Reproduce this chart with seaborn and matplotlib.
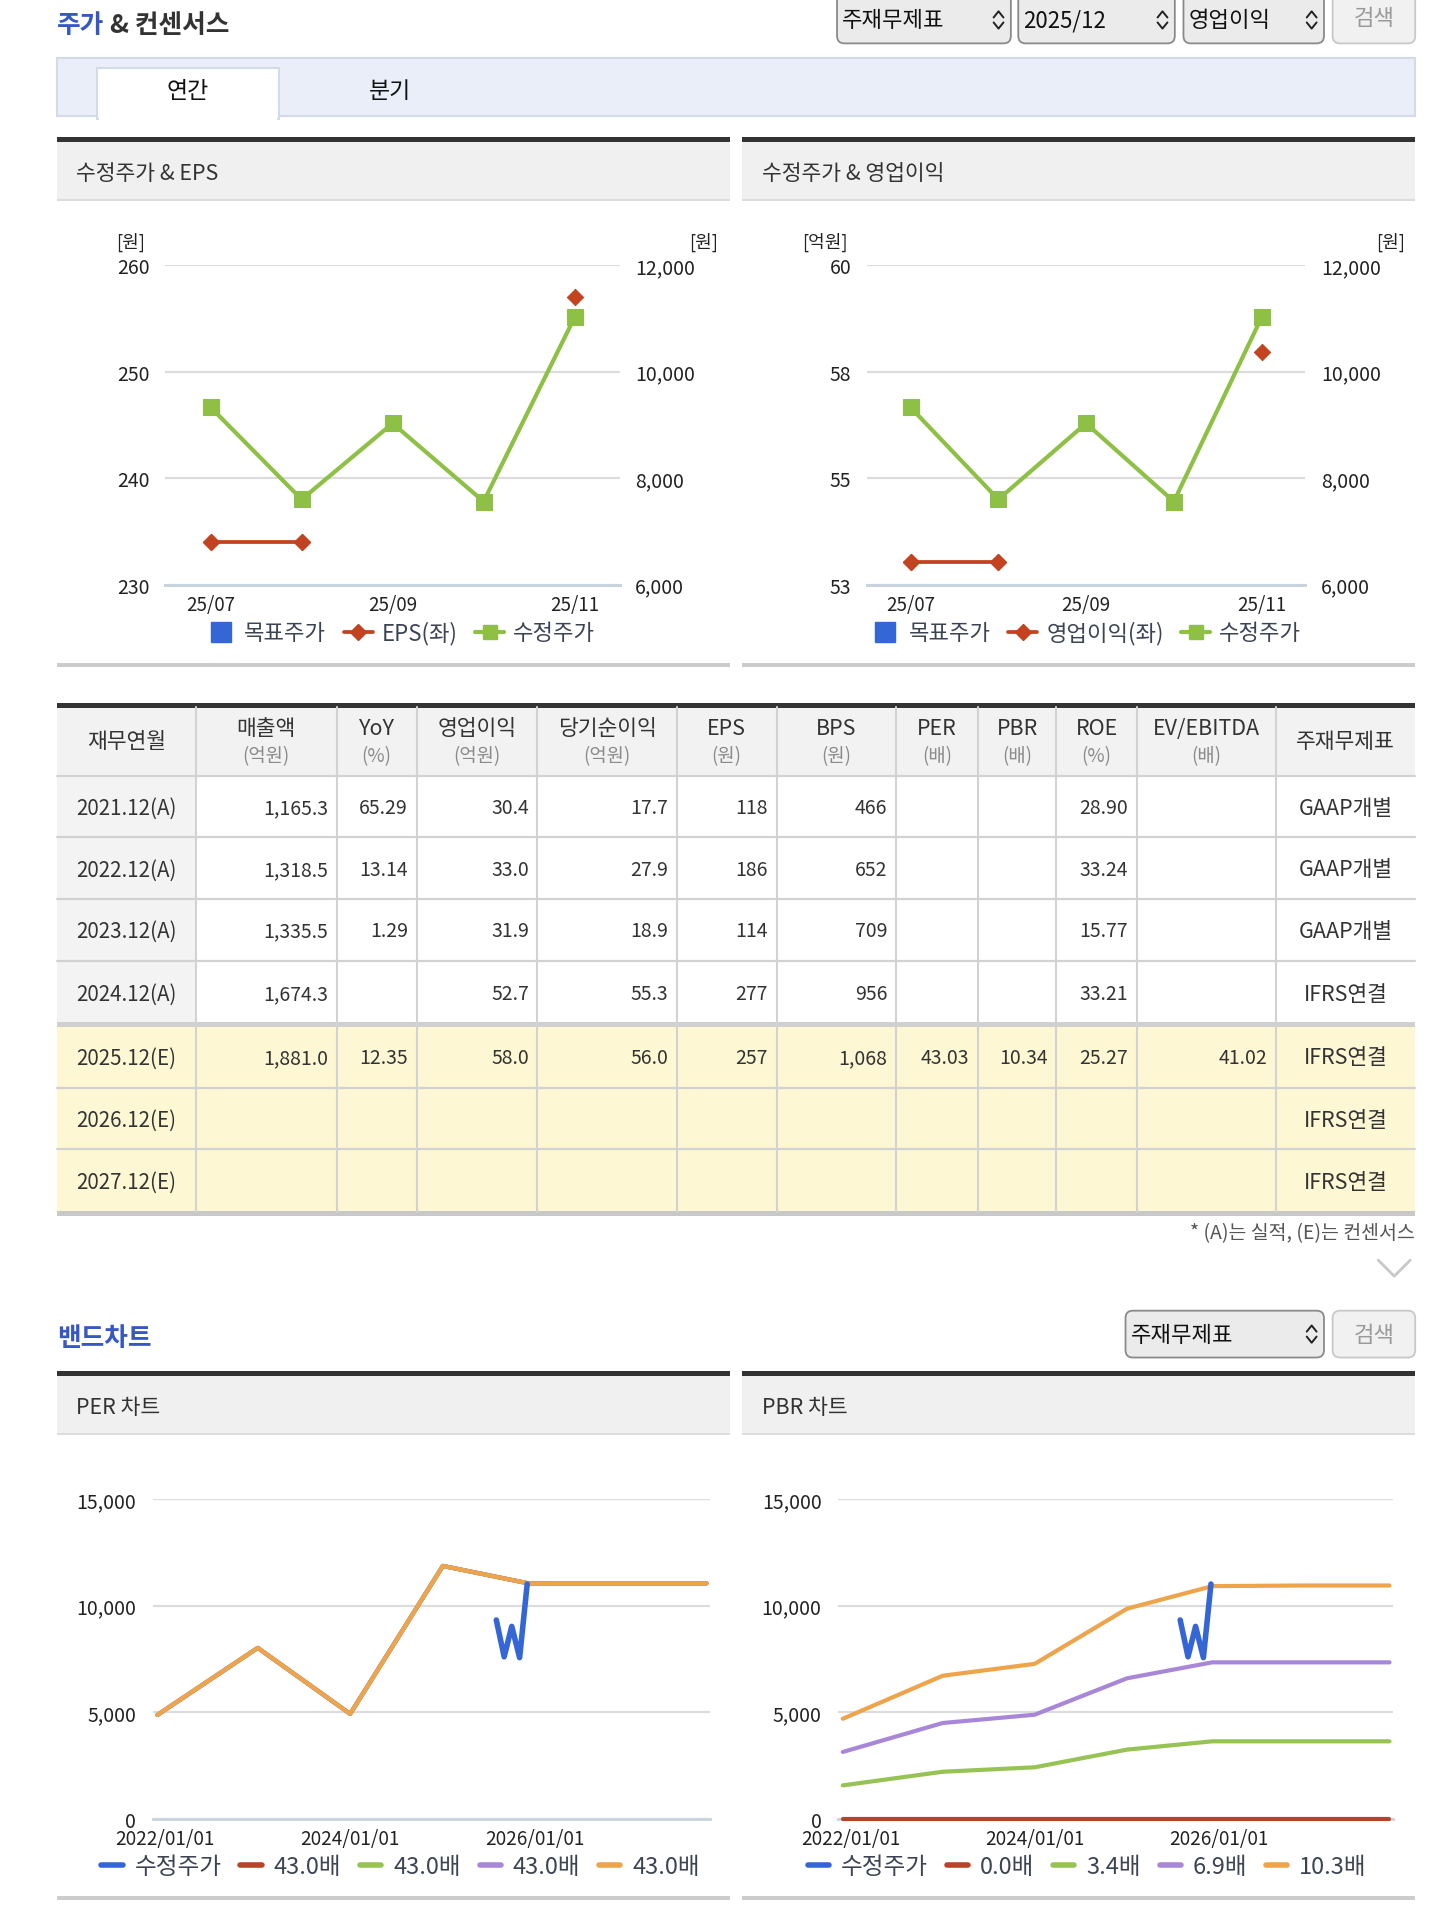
import numpy as np
import pandas as pd
import matplotlib
matplotlib.use("Agg")
import matplotlib.pyplot as plt
from matplotlib.patches import Rectangle, FancyBboxPatch
from matplotlib.lines import Line2D
from matplotlib.ticker import StrMethodFormatter
import seaborn as sns

# ---- data -------------------------------------------------------------
months = ["25/07", "25/08", "25/09", "25/10", "25/11"]
adj_price = [9330, 7600, 9030, 7560, 11020]          # 수정주가 (원)
eps_month = [234, 234, np.nan, np.nan, 257]           # EPS (원)
op_month = [53.5, 53.5, np.nan, np.nan, 58.1]         # 영업이익 (억원)

price_dates = ["2025-07-31", "2025-08-31", "2025-09-30", "2025-10-31", "2025-11-30"]

band_dates = ["2021-12-01", "2023-01-01", "2024-01-01", "2025-01-01",
              "2025-12-05", "2026-12-01", "2027-11-08"]
per_band_430 = [4870, 8020, 4920, 11870, 11050, 11050, 11050]
per_band_labels = ["43.0배", "43.0배", "43.0배", "43.0배"]
pbr_band_00 = [0, 0, 0, 0, 0, 0, 0]
pbr_band_34 = [1560, 2200, 2410, 3240, 3630, 3630, 3630]
pbr_band_69 = [3130, 4490, 4880, 6590, 7340, 7340, 7340]
pbr_band_103 = [4690, 6710, 7270, 9860, 10920, 10950, 10950]
pbr_band_labels = ["0.0배", "3.4배", "6.9배", "10.3배"]
band_ticks = ["2022-01-01", "2024-01-01", "2026-01-01"]
band_tick_labels = ["2022/01/01", "2024/01/01", "2026/01/01"]

col_names = ["재무연월", "매출액", "YoY", "영업이익", "당기순이익", "EPS", "BPS",
             "PER", "PBR", "ROE", "EV/EBITDA", "주재무제표"]
col_units = ["", "(억원)", "(%)", "(억원)", "(억원)", "(원)", "(원)",
             "(배)", "(배)", "(%)", "(배)", ""]
periods = ["2021.12(A)", "2022.12(A)", "2023.12(A)", "2024.12(A)",
           "2025.12(E)", "2026.12(E)", "2027.12(E)"]
sales = ["1,165.3", "1,318.5", "1,335.5", "1,674.3", "1,881.0", "", ""]
yoy = ["65.29", "13.14", "1.29", "", "12.35", "", ""]
op_income = ["30.4", "33.0", "31.9", "52.7", "58.0", "", ""]
net_income = ["17.7", "27.9", "18.9", "55.3", "56.0", "", ""]
eps = ["118", "186", "114", "277", "257", "", ""]
bps = ["466", "652", "709", "956", "1,068", "", ""]
per = ["", "", "", "", "43.03", "", ""]
pbr = ["", "", "", "", "10.34", "", ""]
roe = ["28.90", "33.24", "15.77", "33.21", "25.27", "", ""]
ev_ebitda = ["", "", "", "", "41.02", "", ""]
main_fs = ["GAAP개별", "GAAP개별", "GAAP개별", "IFRS연결", "IFRS연결", "IFRS연결", "IFRS연결"]

# ---- style ------------------------------------------------------------
sns.set_theme(style="white")
plt.rcParams["font.family"] = ["Noto Sans CJK KR", "DejaVu Sans"]

BLUE_T = "#3757c4"
GREEN = "#8dc044"
RED = "#c3421f"
BLUE = "#3566d6"
B_RED = "#b84428"
B_GREEN = "#97c355"
B_PURPLE = "#a887d8"
B_ORANGE = "#eda44b"
GRID = "#dcdcdc"
AXIS = "#c9d3df"
TXT = "#333333"
LEG = "#3c4454"

W, H = 1160, 1568   # page units (screenshot scaled)


def fx(x):
    return x / W


def fy(y):
    return 1 - y / H


fig = plt.figure(figsize=(14.30, 19.33), dpi=100)
page = fig.add_axes([0, 0, 1, 1])
page.set_xlim(0, W)
page.set_ylim(H, 0)
page.axis("off")


def rect(x0, y0, x1, y1, fc, ec="none", lw=0):
    page.add_patch(Rectangle((x0, y0), x1 - x0, y1 - y0, facecolor=fc, edgecolor=ec, lw=lw))


def dropdown(x0, y0, x1, y1, label):
    page.add_patch(FancyBboxPatch((x0, y0), x1 - x0, y1 - y0,
                                  boxstyle="round,pad=0,rounding_size=6",
                                  fc="#ebebeb", ec="#8a8a8a", lw=1.3))
    ym = (y0 + y1) / 2 if y0 > 0 else 17
    page.text(x0 + 4, ym, label, fontsize=16, color="#111", va="center")
    page.plot([x1 - 14, x1 - 10, x1 - 6], [ym - 2, ym - 7, ym - 2], color="#222", lw=1.4)
    page.plot([x1 - 14, x1 - 10, x1 - 6], [ym + 2, ym + 7, ym + 2], color="#222", lw=1.4)


def button(x0, y0, x1, y1):
    page.add_patch(FancyBboxPatch((x0, y0), x1 - x0, y1 - y0,
                                  boxstyle="round,pad=0,rounding_size=6",
                                  fc="#f1f1f1", ec="#c8c8c8", lw=1.3))
    ym = (y0 + y1) / 2 if y0 > 0 else 15
    page.text((x0 + x1) / 2, ym, "검색", fontsize=16, color="#9a9a9a", ha="center", va="center")


def panel(x0, x1, y_top, y_bot, title):
    rect(x0, y_top, x1, y_top + 4, "#333333")
    rect(x0, y_top + 4, x1, y_top + 51, "#f0f0f0")
    rect(x0, y_top + 50, x1, y_top + 52, "#dcdcdc")
    page.text(x0 + 16, y_top + 29, title, fontsize=15.5, color=TXT, va="center")
    rect(x0, y_bot, x1, y_bot + 3, "#cccccc")


# ---- page header ------------------------------------------------------
page.text(46, 21, "주가", fontsize=18.5, fontweight="bold", color=BLUE_T, va="center")
page.text(89, 21, "& 컨센서스", fontsize=18.5, fontweight="bold", color="#333", va="center")
dropdown(679, -6, 820, 36, "주재무제표")
dropdown(826, -6, 953, 36, "2025/12")
dropdown(960, -6, 1074, 36, "영업이익")
button(1081, -6, 1148, 36)

rect(46, 48, 1148, 95, "#e9eef9", ec="#d3dae8", lw=1.5)
rect(79, 56, 226, 97, "white", ec="#d3dae8", lw=1.5)
rect(80, 93, 225, 99, "white")
page.text(152, 74, "연간", fontsize=16.5, color="#111", ha="center", va="center")
page.text(316, 74, "분기", fontsize=16.5, color="#111", ha="center", va="center")

panel(46, 592, 112, 539, "수정주가 & EPS")
panel(602, 1148, 112, 539, "수정주가 & 영업이익")


# ---- top charts -------------------------------------------------------
def top_chart(x0, x1, left_vals, left_lim, left_ticks, left_ticklabels,
              unit_l, unit_l_x, unit_r_x, legend_label, legend_cx):
    ax = fig.add_axes([fx(x0), fy(475), (x1 - x0) / W, (475 - 216) / H])
    ax.set_facecolor("none")
    ax2 = ax.twinx()
    xi = np.arange(len(months))

    df = pd.DataFrame({"x": xi, "left": left_vals, "price": adj_price})
    sns.lineplot(data=df.iloc[:2], x="x", y="left", ax=ax, color=RED, lw=2.7,
                 marker="D", markersize=8, mec=RED)
    sns.scatterplot(data=df.dropna(), x="x", y="left", ax=ax, color=RED,
                    marker="D", s=70, edgecolor=RED)
    sns.lineplot(data=df, x="x", y="price", ax=ax2, color=GREEN, lw=3,
                 marker="s", markersize=11, mec=GREEN)

    ax.set_ylim(*left_lim)
    ax.set_yticks(left_ticks)
    ax.set_yticklabels(left_ticklabels)
    ax.yaxis.grid(True, color=GRID, lw=1.6)
    ax.set_axisbelow(True)
    ax2.set_ylim(6000, 12000)
    ax2.set_yticks([6000, 8000, 10000, 12000])
    ax2.yaxis.set_major_formatter(StrMethodFormatter("{x:,.0f}"))
    ax2.grid(False)

    ax.set_xlim(-0.5, len(months) - 0.5)
    ax.set_xticks(xi[::2])
    ax.set_xticklabels(months[::2])
    ax.set_xticks([-0.5, 0.5, 2.5, 4.5], minor=True)
    ax.tick_params(axis="x", which="major", length=0, pad=7, labelsize=13.5, colors="#222")
    ax.tick_params(axis="x", which="minor", length=7, width=1.5, color=AXIS, direction="out")
    ax.tick_params(axis="y", length=0, pad=11, labelsize=14, colors="#222")
    ax2.tick_params(axis="y", length=0, pad=11, labelsize=14, colors="#222")
    for a in (ax, ax2):
        a.set_xlabel("")
        a.set_ylabel("")
        for s in ("top", "left", "right"):
            a.spines[s].set_visible(False)
        a.spines["bottom"].set_color(AXIS)
        a.spines["bottom"].set_linewidth(2)

    page.text(unit_l_x, 197, unit_l, fontsize=13, color="#222", ha="center", va="center")
    page.text(unit_r_x, 197, "[원]", fontsize=13, color="#222", ha="center", va="center")

    handles = [Line2D([], [], ls="none", marker="s", markersize=15, color=BLUE),
               Line2D([], [], color=RED, lw=2.7, marker="D", markersize=8),
               Line2D([], [], color=GREEN, lw=3, marker="s", markersize=10)]
    fig.legend(handles, ["목표주가", legend_label, "수정주가"], loc="center",
               bbox_to_anchor=(fx(legend_cx), fy(514)), ncol=3, frameon=False,
               fontsize=16, handlelength=1.3, handletextpad=0.4,
               columnspacing=0.8, labelcolor=LEG)


top_chart(134, 503, eps_month, (230, 260), [230, 240, 250, 260],
          ["230", "240", "250", "260"], "[원]", 106, 571, "EPS(좌)", 325)
top_chart(703, 1059, op_month, (53, 60), np.linspace(53, 60, 4),
          ["53", "55", "58", "60"], "[억원]", 669, 1128, "영업이익(좌)", 881)

# ---- table ------------------------------------------------------------
col_x = [46, 159, 273, 338, 436, 549, 630, 727, 793, 857, 922, 1035, 1148]
row_y = [630, 680, 730, 780, 832, 883, 933, 984]
rect(46, 574, 1148, 630, "#f2f2f2")
for i in range(len(periods)):
    y0, y1 = row_y[i], row_y[i + 1]
    if periods[i].endswith("(E)"):
        rect(46, y0, 1148, y1, "#fdf7d3")
    else:
        rect(46, y0, 159, y1, "#f3f3f3")
for y in row_y[1:4] + row_y[5:7]:
    page.plot([46, 1148], [y, y], color="#d2d2d2", lw=1.6)
page.plot([46, 1148], [630, 630], color="#d2d2d2", lw=1.6)
rect(46, 830, 1148, 834, "#d0d0d0")
for x in col_x[1:-1]:
    page.plot([x, x], [574, 984], color="#d2d2d2", lw=1.5)
rect(46, 571, 1148, 575, "#333333")
rect(46, 983, 1148, 987, "#c8c8c8")

for j, name in enumerate(col_names):
    cx = (col_x[j] + col_x[j + 1]) / 2
    if col_units[j]:
        page.text(cx, 591, name, fontsize=15.5, color=TXT, ha="center", va="center")
        page.text(cx, 614, col_units[j], fontsize=13.5, color="#8a8a8a", ha="center", va="center")
    else:
        page.text(cx, 602, name, fontsize=15.5, color=TXT, ha="center", va="center")

columns = [sales, yoy, op_income, net_income, eps, bps, per, pbr, roe, ev_ebitda]
for i, p in enumerate(periods):
    cy = (row_y[i] + row_y[i + 1]) / 2 + 1
    page.text((col_x[0] + col_x[1]) / 2, cy, p, fontsize=14.8, color=TXT, ha="center", va="center")
    for j, col in enumerate(columns):
        page.text(col_x[j + 2] - 7, cy, col[i], fontsize=14, color=TXT, ha="right", va="center")
    page.text((col_x[-2] + col_x[-1]) / 2, cy, main_fs[i], fontsize=15.5, color=TXT,
              ha="center", va="center")

page.text(1148, 1001, "* (A)는 실적, (E)는 컨센서스", fontsize=14, color="#555",
          ha="right", va="center")
page.plot([1118, 1131, 1144], [1023, 1036, 1023], color="#c8c8c8", lw=2)

# ---- band charts ------------------------------------------------------
page.text(46, 1086, "밴드차트", fontsize=18.5, fontweight="bold", color=BLUE_T, va="center")
dropdown(913, 1064, 1074, 1102, "주재무제표")
button(1081, 1064, 1148, 1102)
panel(46, 592, 1113, 1539, "PER 차트")
panel(602, 1148, 1113, 1539, "PBR 차트")


def band_chart(x0, x1, series, labels, legend_cx):
    ax = fig.add_axes([fx(x0), fy(1476), (x1 - x0) / W, (1476 - 1217) / H])
    ax.set_facecolor("none")
    dates = pd.to_datetime(band_dates)
    for vals, color in zip(series, [B_RED, B_GREEN, B_PURPLE, B_ORANGE]):
        sns.lineplot(x=dates, y=vals, ax=ax, color=color, lw=3, zorder=3, clip_on=False)
    sns.lineplot(x=pd.to_datetime(price_dates), y=adj_price, ax=ax, color=BLUE, lw=4, zorder=4)

    ax.set_ylim(0, 15000)
    ax.set_yticks([0, 5000, 10000, 15000])
    ax.yaxis.set_major_formatter(StrMethodFormatter("{x:,.0f}"))
    ax.yaxis.grid(True, color=GRID, lw=1.6)
    ax.set_axisbelow(True)
    ax.set_xlim(pd.Timestamp("2021-11-13"), pd.Timestamp("2027-11-22"))
    ax.set_xticks(pd.to_datetime(band_ticks))
    ax.set_xticklabels(band_tick_labels)
    ax.tick_params(axis="x", length=6, width=1.5, color=AXIS, direction="out", pad=1,
                   labelsize=13.7, colors="#222")
    ax.tick_params(axis="x", color=AXIS)
    ax.tick_params(axis="y", length=0, pad=12, labelsize=14, colors="#222")
    ax.set_xlabel("")
    ax.set_ylabel("")
    for s in ("top", "left", "right"):
        ax.spines[s].set_visible(False)
    ax.spines["bottom"].set_color(AXIS)
    ax.spines["bottom"].set_linewidth(2)

    handles = [Line2D([], [], color=c, lw=4)
               for c in [BLUE, B_RED, B_GREEN, B_PURPLE, B_ORANGE]]
    fig.legend(handles, ["수정주가"] + labels, loc="center",
               bbox_to_anchor=(fx(legend_cx), fy(1515)), ncol=5, frameon=False,
               fontsize=17, handlelength=0.9, handletextpad=0.5,
               columnspacing=0.8, labelcolor=LEG)


band_chart(124, 576, [per_band_430, per_band_430, per_band_430, per_band_430],
           per_band_labels, 325)
band_chart(680, 1130, [pbr_band_00, pbr_band_34, pbr_band_69, pbr_band_103],
           pbr_band_labels, 882)

fig.savefig("out.png", dpi=100)
